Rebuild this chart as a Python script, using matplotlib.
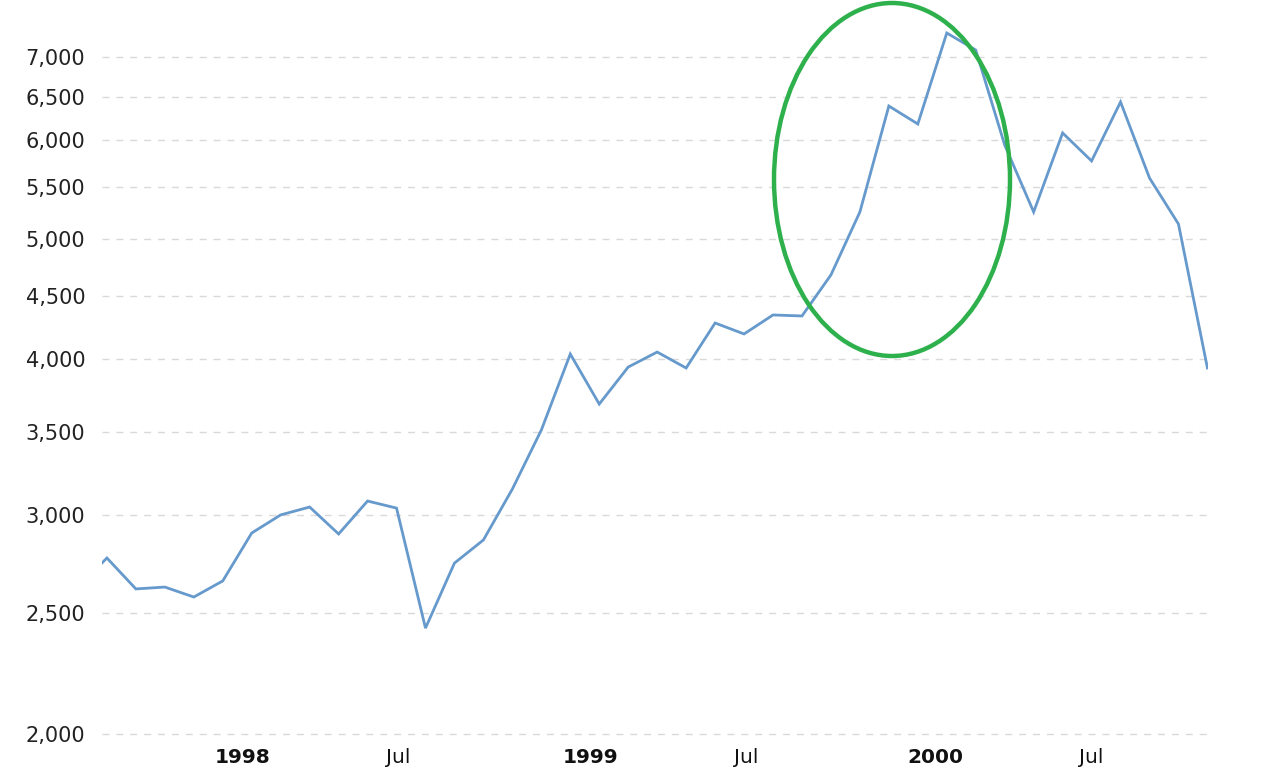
import matplotlib
matplotlib.use("Agg")
import matplotlib.pyplot as plt
from matplotlib.patches import Ellipse
from matplotlib.ticker import FixedLocator, FuncFormatter, NullLocator
import numpy as np

# Monthly values (Jul 1997 .. Oct 2000), evenly spaced (ordinal axis)
months = ["1997-07", "1997-08", "1997-09", "1997-10", "1997-11", "1997-12",
          "1998-01", "1998-02", "1998-03", "1998-04", "1998-05", "1998-06",
          "1998-07", "1998-08", "1998-09", "1998-10", "1998-11", "1998-12",
          "1999-01", "1999-02", "1999-03", "1999-04", "1999-05", "1999-06",
          "1999-07", "1999-08", "1999-09", "1999-10", "1999-11", "1999-12",
          "2000-01", "2000-02", "2000-03", "2000-04", "2000-05", "2000-06",
          "2000-07", "2000-08", "2000-09", "2000-10"]
values = [2625, 2770, 2616, 2625, 2577, 2655, 2901, 3000, 3044, 2896,
          3078, 3038, 2433, 2744, 2864, 3147, 3510, 4040, 3683, 3944,
          4055, 3937, 4279, 4193, 4343, 4335, 4677, 5255, 6393, 6184,
          7318, 7091, 5948, 5255, 6082, 5775, 6441, 5596, 5139, 3937]

y_ticks = [2000, 2500, 3000, 3500, 4000, 4500, 5000, 5500, 6000, 6500, 7000]
x_tick_pos = [5.69, 11.07, 17.69, 23.07, 29.62, 34.97]
x_tick_labels = ["1998", "Jul", "1999", "Jul", "2000", "Jul"]
x_tick_bold = [True, False, True, False, True, False]

W, H = 1284, 768
fig = plt.figure(figsize=(W / 100, H / 100), dpi=100)
ax_left, ax_right, ax_top, ax_bottom = 102, 1208, 10, 740
ax = fig.add_axes([ax_left / W, 1 - ax_bottom / H,
                   (ax_right - ax_left) / W, (ax_bottom - ax_top) / H])

x = np.arange(len(values))
ax.plot(x, values, color="#6699cc", lw=2.0, solid_joinstyle="miter", zorder=3,
        clip_on=True)

ax.set_yscale("log")
ax.set_ylim(1978, 7636)
ax.set_xlim(0.83, 39.02)
ax.yaxis.set_major_locator(FixedLocator(y_ticks))
ax.yaxis.set_minor_locator(NullLocator())
ax.yaxis.set_major_formatter(FuncFormatter(lambda v, p: f"{int(round(v)):,}"))
ax.grid(axis="y", color="#d9d9d9", linestyle=(0, (5, 5)), linewidth=1.0, zorder=1)

ax.set_xticks(x_tick_pos)
ax.set_xticklabels(x_tick_labels)
for lbl, b in zip(ax.get_xticklabels(), x_tick_bold):
    lbl.set_fontweight("bold" if b else "normal")

ax.tick_params(axis="y", length=0, pad=12, labelsize=15, labelcolor="#222222")
ax.tick_params(axis="x", length=0, pad=6, labelsize=14.5, labelcolor="#111111")
for s in ax.spines.values():
    s.set_visible(False)

# green highlight ellipse
cx, cy, ew, eh = 892, 179.5, 236, 353
ell = Ellipse((cx / W, 1 - cy / H), ew / W, eh / H, transform=fig.transFigure,
              fill=False, edgecolor="#2eb14c", linewidth=3.2, zorder=5)
fig.patches.append(ell)

fig.savefig("out.png", dpi=100, facecolor="white")
